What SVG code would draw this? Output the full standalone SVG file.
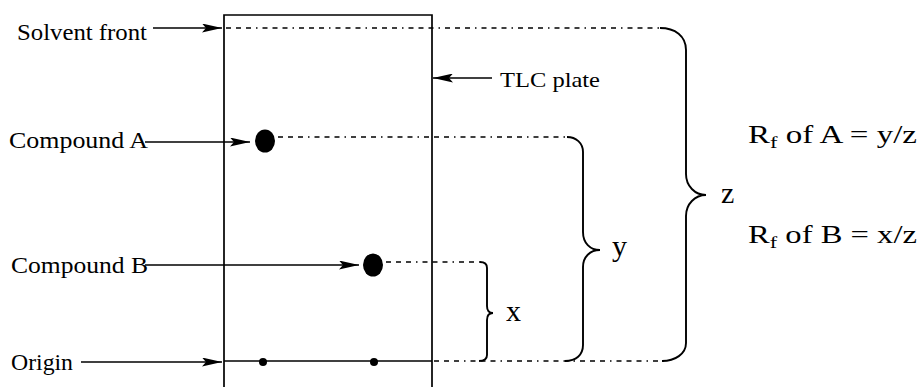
<svg xmlns="http://www.w3.org/2000/svg" width="921" height="387" viewBox="0 0 921 387">
<style>
text{font-family:"Liberation Serif","Times New Roman",serif;fill:#000}
.lbl{font-size:24px}
.big{font-size:25px}
.var{font-size:30px}
.solid{stroke:#000;stroke-width:1.7;fill:none}
.dash{stroke:#000;stroke-width:1.5;fill:none;stroke-dasharray:5 5 5 5 5 5 1.5 5}
.brace{stroke:#000;stroke-width:1.9;fill:none}
.arr{stroke:#000;stroke-width:1.6;fill:none;marker-end:url(#ah)}
</style>
<defs>
<marker id="ah" markerWidth="20" markerHeight="9" refX="20" refY="4.5" orient="auto" markerUnits="userSpaceOnUse">
<path d="M0,0 L20,4.5 L0,9 L4,4.5 Z" fill="#000"/>
</marker>
</defs>
<rect width="921" height="387" fill="#fff"/>
<g id="plate">
<path class="solid" d="M224,387 L224,15 L432,15 L432,387"/>
<line class="solid" x1="224" y1="361" x2="432" y2="361"/>
<circle cx="263" cy="362" r="4" fill="#000"/>
<circle cx="374" cy="362" r="4" fill="#000"/>
</g>
<g id="spotA"><ellipse cx="265" cy="141" rx="10" ry="11.5" fill="#000"/></g>
<g id="spotB"><ellipse cx="373" cy="265" rx="10" ry="11.5" fill="#000"/></g>
<g id="connectors">
<line class="dash" x1="226" y1="28" x2="660" y2="28"/>
<line class="dash" x1="278" y1="137" x2="568" y2="137"/>
<line class="dash" x1="386" y1="262" x2="480" y2="262"/>
<line class="dash" x1="434" y1="361" x2="664" y2="361"/>
<path class="brace" d="M660,28 C675,28 686,36 686,50 L686,174 C686,186 695,195 706,195 C695,195 686,204 686,216 L686,343 C686,354 675,361 662,361"/>
<path class="brace" d="M567,137 C576,137 583,143 583,152 L583,232 C583,243 590,250 600,250 C590,250 583,257 583,267 L583,345 C583,355 576,361 565,361"/>
<path class="brace" d="M480,262 C484,262 487,264 487,268 L487,306 C487,310 489,313 493,313 C489,313 487,316 487,320 L487,355 C487,359 484,361 479,361"/>
<line class="arr" x1="153" y1="28" x2="222" y2="28"/>
<line class="arr" x1="145" y1="142" x2="250" y2="142"/>
<line class="arr" x1="145" y1="265" x2="359" y2="265"/>
<line class="arr" x1="81" y1="362" x2="222" y2="362"/>
<line class="arr" x1="492" y1="78" x2="433" y2="78"/>
</g>
<g id="labels">
<text class="lbl" x="17" y="40" textLength="130" lengthAdjust="spacingAndGlyphs">Solvent front</text>
<text class="lbl" x="9" y="148" textLength="139" lengthAdjust="spacingAndGlyphs">Compound A</text>
<text class="lbl" x="11" y="273" textLength="137" lengthAdjust="spacingAndGlyphs">Compound B</text>
<text class="lbl" x="11" y="370" textLength="62" lengthAdjust="spacingAndGlyphs">Origin</text>
<text x="500" y="87" font-size="21" textLength="100" lengthAdjust="spacingAndGlyphs">TLC plate</text>
<text class="var" x="506" y="321">x</text>
<text class="var" x="612" y="256">y</text>
<text class="var" x="721" y="203">z</text>
<text class="big" x="748" y="143" textLength="169" lengthAdjust="spacingAndGlyphs">R<tspan font-size="17" dy="5">f</tspan><tspan dy="-5"> of A = y/z</tspan></text>
<text class="big" x="748" y="243" textLength="169" lengthAdjust="spacingAndGlyphs">R<tspan font-size="17" dy="5">f</tspan><tspan dy="-5"> of B = x/z</tspan></text>
</g>
</svg>
